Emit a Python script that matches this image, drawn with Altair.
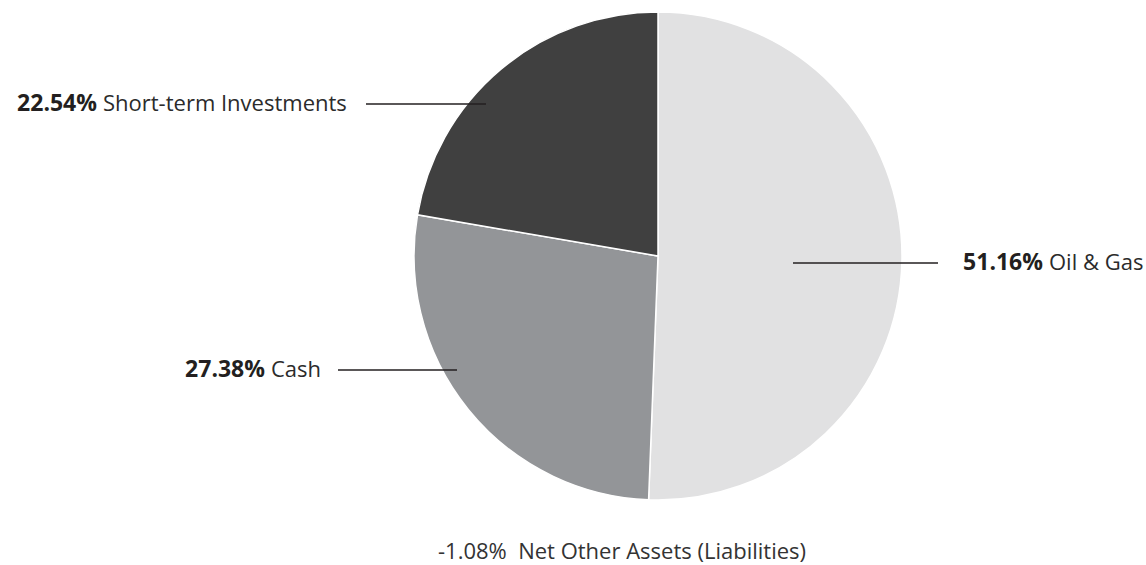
import altair as alt
import pandas as pd

# ---- data ----
categories = ["Oil & Gas", "Cash", "Short-term Investments"]
values = [51.16, 27.38, 22.54]
slice_order = [0, 1, 2]
colors = ["#e1e1e2", "#939598", "#404040"]
other_pct = -1.08
other_name = "Net Other Assets (Liabilities)"

df = pd.DataFrame({"category": categories, "value": values, "order": slice_order})

FONT = "Open Sans"
FS = 22
FS_B = 23
TXT = "#231f20"

CX, CY, R = 658, 256, 244

pie = alt.Chart(df).mark_arc(outerRadius=R, stroke="white", strokeWidth=1.5).encode(
    theta=alt.Theta("value:Q", stack=True),
    order=alt.Order("order:Q"),
    color=alt.Color("category:N", scale=alt.Scale(domain=categories, range=colors), legend=None),
    x=alt.value(CX),
    y=alt.value(CY),
)

layers = [pie]

# label layout: (category index, pct right edge, name left edge, line_x1, line_x2, y)
layout = [
    (2, 97, 103, 366, 486, 104),
    (1, 265, 271, 338, 457, 370),
    (0, 1043, 1049, 793, 938, 263),
]

for idx, px, nx, lx1, lx2, ly in layout:
    d = pd.DataFrame({"pct": [f"{values[idx]:.2f}%"], "name": [categories[idx]]})
    base = alt.Chart(d)
    layers.append(
        base.mark_text(font=FONT, fontSize=FS_B, fontWeight="bold", color=TXT,
                       align="right", baseline="middle").encode(
            text="pct:N", x=alt.value(px), y=alt.value(ly))
    )
    layers.append(
        base.mark_text(font=FONT, fontSize=FS, fontWeight="normal", color="#2b2b2b",
                       align="left", baseline="middle").encode(
            text="name:N", x=alt.value(nx), y=alt.value(ly))
    )
    layers.append(
        base.mark_rule(color=TXT, strokeWidth=1.5).encode(
            x=alt.value(lx1), x2=alt.value(lx2), y=alt.value(ly))
    )

other_df = pd.DataFrame({"t": [f"{other_pct:.2f}%\u00a0\u00a0{other_name}"]})
layers.append(
    alt.Chart(other_df).mark_text(font=FONT, fontSize=FS, color="#333333",
                                  align="center", baseline="middle").encode(
        text="t:N", x=alt.value(622), y=alt.value(552))
)

chart = alt.layer(*layers).properties(
    width=1146, height=565,
    padding=0,
    background="white",
    autosize=alt.AutoSizeParams(type="none"),
).configure_view(stroke=None)

chart.save("out.html", embed_options={"renderer": "svg", "actions": False})
